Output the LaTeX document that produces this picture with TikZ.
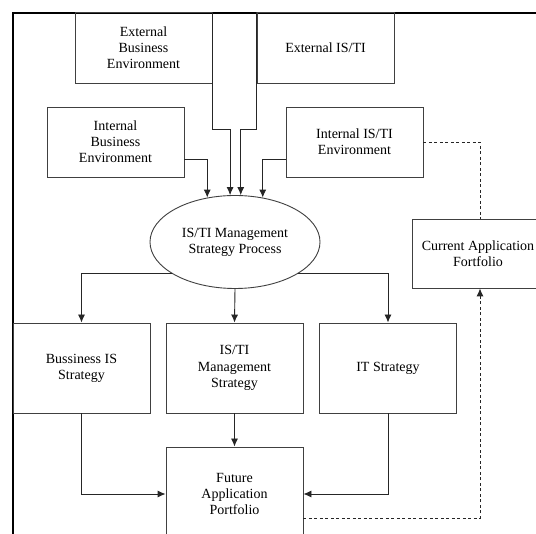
\documentclass[tikz,border=0pt]{standalone}
\usepackage{fontspec}
\setmainfont{Liberation Serif}
\usetikzlibrary{arrows.meta,shapes.geometric}
\tikzset{
  box/.style={draw=black!75, line width=0.9pt, minimum width=137pt, inner sep=2pt, align=center, font=\fontsize{14}{16.2}\selectfont},
  ellbox/.style={ellipse, draw=black!75, line width=0.9pt, minimum width=170pt, minimum height=93pt, inner sep=0pt, align=center, font=\fontsize{14}{16.2}\selectfont},
  conn/.style={draw=black!85, line width=0.9pt},
  tip/.style={-{Latex[length=8pt,width=7pt]}},
  arr/.style={conn, tip},
  dash line/.style={conn, dash pattern=on 3pt off 2.5pt},
  frame/.style={draw=black, line width=2pt}
}
\begin{document}
\begin{tikzpicture}[x=1pt,y=-1pt]
\clip (0,0) rectangle (536,534);
\fill[white] (0,0) rectangle (536,534);
% frame
\coordinate (fa) at (536,12.6);
\coordinate (fb) at (12.5,12.6);
\coordinate (fc) at (12.5,534);
\draw[frame] (fa) -- (fb) -- (fc);
% nodes
\node[box, minimum height=70.5pt] (extB) at (143.5,47.8) {External\\Business\\Environment};
\node[box, minimum height=70.5pt] (extIS) at (325.5,47.8) {External IS/TI};
\node[box, minimum height=70pt] (intB) at (115.5,142) {Internal\\Business\\Environment};
\node[box, minimum height=70pt] (intIS) at (354.5,142) {Internal IS/TI\\Environment};
\node[ellbox] (ell) at (235,242) {IS/TI Management\\Strategy Process};
\node[box, minimum width=132pt, minimum height=69pt] (cur) at (478,253.5) {Current Application\\Fortfolio};
\node[box, minimum height=90pt] (bis) at (81.5,368) {Bussiness IS\\Strategy};
\node[box, minimum height=90pt] (mgmt) at (234.5,368) {IS/TI\\Management\\Strategy};
\node[box, minimum height=90pt] (its) at (388,368) {IT Strategy};
\node[box, minimum height=94pt] (fut) at (234.5,494) {Future\\Application\\Portfolio};
% connectors into ellipse
\draw[arr] (extB.north east) -- ++(0,117.5) -| (ell.96);
\draw[arr] (extIS.north west) -- ++(0,117.5) -| (ell.83);
\draw[arr] ([yshift=-17pt]intB.east) -| (ell.122);
\draw[arr] ([yshift=-17pt]intIS.west) -| (ell.58);
\draw[dash line] (intIS.east) -| ([xshift=2pt]cur.north);
% out of ellipse
\draw[arr] (ell.207) -| (bis.north);
\draw[arr] (ell.south) -- (mgmt.north);
\draw[arr] (ell.333) -| (its.north);
% into future
\draw[arr] (mgmt.south) -- (fut.north);
\draw[arr] (bis.south) |- (fut.west);
\draw[arr] (its.south) |- (fut.east);
\draw[dash line, tip] ([yshift=-24pt]fut.east) -| ([xshift=2pt]cur.south);
\end{tikzpicture}
\end{document}
